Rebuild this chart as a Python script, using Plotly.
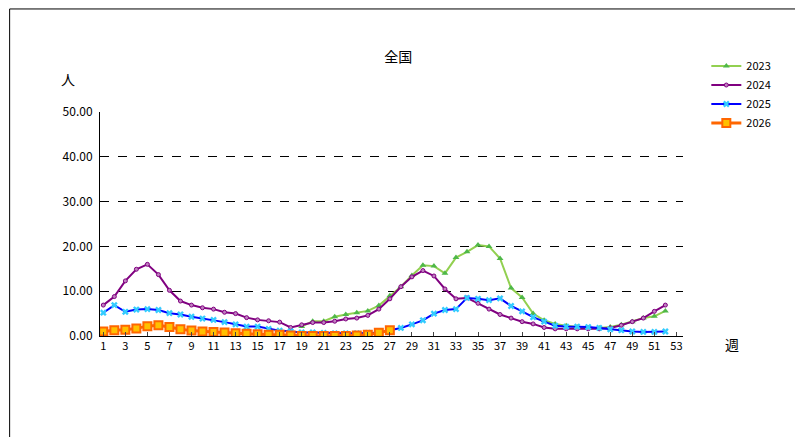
import plotly.graph_objects as go

weeks = list(range(1, 53))
w2023 = list(range(19, 53))
v2023 = [2.1, 3.3, 3.3, 4.3, 4.8, 5.2, 5.6, 6.8, 9.0, 11.0, 13.5, 15.8, 15.6, 14.0, 17.5, 18.8, 20.3, 20.0, 17.3, 10.7, 8.6, 5.0, 3.5, 2.7, 2.3, 2.0, 1.8, 1.8, 2.0, 2.5, 3.2, 4.0, 4.4, 5.6]
v2024 = [6.9, 8.8, 12.3, 14.9, 16.0, 13.7, 10.2, 7.8, 6.9, 6.3, 6.0, 5.3, 5.0, 4.1, 3.6, 3.4, 3.1, 1.9, 2.5, 3.0, 3.0, 3.3, 3.8, 4.0, 4.6, 6.0, 8.3, 11.0, 13.2, 14.6, 13.4, 10.5, 8.3, 8.5, 7.3, 6.0, 4.8, 4.0, 3.2, 2.7, 1.9, 1.6, 1.6, 1.6, 1.6, 1.6, 1.8, 2.4, 3.2, 4.0, 5.5, 6.9]
v2025 = [5.2, 6.9, 5.4, 5.9, 6.0, 5.8, 5.1, 4.8, 4.3, 3.9, 3.6, 3.1, 2.6, 2.1, 2.1, 1.6, 1.2, 1.0, 0.8, 0.8, 0.7, 0.6, 0.6, 0.6, 0.7, 0.7, 1.3, 1.8, 2.6, 3.5, 5.0, 5.8, 6.0, 8.5, 8.3, 8.0, 8.4, 6.7, 5.5, 4.2, 3.2, 2.3, 2.1, 2.1, 2.0, 1.8, 1.5, 1.3, 1.0, 0.9, 0.9, 1.0]
w2026 = list(range(1, 28))
v2026 = [1.0, 1.3, 1.4, 1.7, 2.2, 2.4, 2.0, 1.5, 1.2, 1.0, 0.9, 0.8, 0.6, 0.5, 0.4, 0.3, 0.3, 0.1, 0.0, 0.0, 0.0, 0.0, 0.0, 0.1, 0.3, 0.7, 1.3]
xticks = list(range(1, 54, 2))
yticks = [0, 10, 20, 30, 40, 50]

fig = go.Figure()
fig.add_trace(go.Scatter(x=w2023, y=v2023, name="2023", mode="lines+markers",
    line=dict(color="#92d050", width=2), marker=dict(symbol="triangle-up", size=6, color="#4fb848")))
fig.add_trace(go.Scatter(x=weeks, y=v2024, name="2024", mode="lines+markers",
    line=dict(color="#800080", width=2), marker=dict(symbol="circle", size=4, color="#c080c0", line=dict(color="#800080", width=1))))
fig.add_trace(go.Scatter(x=weeks, y=v2025, name="2025", mode="lines+markers",
    line=dict(color="#0000ff", width=2), marker=dict(symbol="x", size=6, color="#33ccff")))
fig.add_trace(go.Scatter(x=w2026, y=v2026, name="2026", mode="lines+markers",
    line=dict(color="#ff6600", width=3), marker=dict(symbol="square", size=8, color="#ffc000", line=dict(color="#ff6600", width=2))))

fig.update_layout(
    width=803, height=437, paper_bgcolor="white", plot_bgcolor="white",
    margin=dict(l=92, r=128, t=104, b=109),
    font=dict(family="Noto Sans CJK JP", size=12, color="black"),
    title=dict(text="全国", x=0.486, y=0.9, xanchor="center", font=dict(size=14)),
    legend=dict(x=1.04, y=1.27, xanchor="left", yanchor="top", font=dict(size=11), tracegroupgap=0,
                bgcolor="rgba(0,0,0,0)"),
    xaxis=dict(range=[0.7, 53.6], tickvals=xticks, showgrid=False, showline=True, linecolor="black",
               ticks="inside", ticklen=4, tickfont=dict(size=11), zeroline=False),
    yaxis=dict(range=[0, 50], tickvals=yticks, tickformat=".2f", showline=True, linecolor="black",
               gridcolor="black", griddash="dash", gridwidth=1, ticks="", ticklabelstandoff=4,
               tickfont=dict(size=12), zeroline=False),
    shapes=[dict(type="rect", xref="paper", yref="paper", x0=-0.155, x1=1.203, y0=-0.455, y1=1.46,
                 line=dict(color="black", width=1))],
    annotations=[
        dict(text="人", xref="paper", yref="paper", x=-0.07, y=1.2, showarrow=False, font=dict(size=14)),
        dict(text="週", xref="paper", yref="paper", x=1.1, y=-0.09, showarrow=False, font=dict(size=14)),
    ],
)
fig.write_html("out.html")
